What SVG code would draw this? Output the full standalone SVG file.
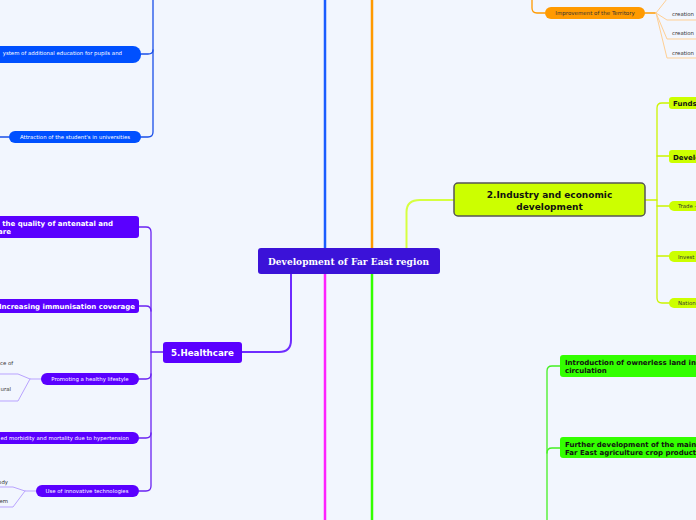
<svg xmlns="http://www.w3.org/2000/svg" width="696" height="520" viewBox="0 0 696 520">
<style>
.c{fill:none;stroke-linecap:round;stroke-linejoin:round}
.sb{font-family:"DejaVu Sans",Verdana,sans-serif;font-weight:bold}
.s{font-family:"DejaVu Sans",Verdana,sans-serif}
.w{fill:#ffffff}
.k{fill:#111111}
.g{fill:#333333;font-size:5.4px}
.blue{stroke:#1a4fe8;stroke-width:1.3}
.pur{stroke:#6a22f2;stroke-width:1.3}
.purl{stroke:#b9a3ff;stroke-width:1}
.org{stroke:#ff9a00;stroke-width:1.3}
.orgl{stroke:#ffcf94;stroke-width:1}
.yel{stroke:#ccf400;stroke-width:1.3}
.grn{stroke:#44f022;stroke-width:1.3}
</style>
<rect width="696" height="520" fill="#f2f6fe"/>
<g id="connectors">
<path class="c" d="M325,0 V248" stroke="#1a5cff" stroke-width="2.5"/>
<path class="c" d="M372,0 V248" stroke="#ff9900" stroke-width="2.5"/>
<path class="c" d="M325,274 V520" stroke="#ff22ff" stroke-width="2.5"/>
<path class="c" d="M372,274 V520" stroke="#33ff00" stroke-width="2.5"/>
<path class="c" d="M406.5,248 V212 Q406.5,200 420,200 H454" stroke="#d6ff40" stroke-width="2"/>
<path class="c" d="M291,274 V340 Q291,352 279,352 H242" stroke="#6f2cff" stroke-width="2"/>
<path class="c blue" d="M153,0 V132 Q153,137 148,137 H141"/>
<path class="c blue" d="M141,54 H148 Q153,54 153,50"/>
<path class="c blue" d="M0,137 H9"/>
<path class="c pur" d="M139,227 H146 Q151,227 151,232 V486 Q151,491 146,491 H139"/>
<path class="c pur" d="M139,306 H146 Q151,306 151,311"/>
<path class="c pur" d="M139,379 H146 Q151,379 151,374"/>
<path class="c pur" d="M139,438 H146 Q151,438 151,433"/>
<path class="c pur" d="M163,352 H151"/>
<path class="c purl" d="M41,379 H30 L18,374 H0 M30,379 L18,401 H0"/>
<path class="c purl" d="M36,491 H25 L13,487 H0 M25,491 L13,507 H0"/>
<path class="c org" d="M532,0 V8 Q532,13 537,13 H545"/>
<path class="c org" d="M645,13 H656"/>
<path class="c orgl" d="M656,13 L667,-1 M656,13 L667,20 H696 M656,13 L667,39 H696 M656,13 L667,58 H696"/>
<path class="c yel" d="M645,200 H657"/>
<path class="c yel" d="M669,103 H662 Q657,103 657,108 V298 Q657,303 662,303 H669"/>
<path class="c yel" d="M657,156 H669 M657,206 H669 M657,256 H669"/>
<path class="c grn" d="M560,366 H552 Q547,366 547,371 V520"/>
<path class="c grn" d="M547,453 Q547,448 552,448 H560"/>
</g>
<g id="central">
<rect x="258" y="248" width="182" height="26" rx="3" fill="#3b12d8"/>
<text x="348.5" y="265" text-anchor="middle" font-family="'DejaVu Serif','Liberation Serif',serif" font-weight="bold" font-size="9" textLength="161" class="w">Development of Far East region</text>
</g>
<g id="edu-additional">
<rect x="-10" y="46" width="151" height="17" rx="8" fill="#0050ff"/>
<text x="122" y="54.5" text-anchor="end" class="s w" font-size="5.4">ystem of additional education for pupils and</text>
</g>
<g id="edu-attraction">
<rect x="9" y="131" width="132" height="12" rx="6" fill="#0050ff"/>
<text x="75" y="139" text-anchor="middle" class="s w" font-size="5.4">Attraction of the student's in universities</text>
</g>
<g id="healthcare">
<rect x="163" y="342" width="79" height="21" rx="3" fill="#5a00ff"/>
<text x="202.5" y="356" text-anchor="middle" class="sb w" font-size="8.7">5.Healthcare</text>
</g>
<g id="hc-antenatal">
<rect x="-10" y="216" width="149" height="22" rx="3" fill="#5a00ff"/>
<text x="113" y="226" text-anchor="end" class="sb w" font-size="7">g the quality of antenatal and</text>
<text x="11" y="234" text-anchor="end" class="sb w" font-size="7">are</text>
</g>
<g id="hc-immunisation">
<rect x="-10" y="299" width="149" height="14" rx="3" fill="#5a00ff"/>
<text x="135" y="308.5" text-anchor="end" class="sb w" font-size="7">Increasing immunisation coverage</text>
</g>
<g id="hc-lifestyle">
<rect x="41" y="373" width="98" height="12" rx="6" fill="#5a00ff"/>
<text x="90" y="381" text-anchor="middle" class="s w" font-size="5.4">Promoting a healthy lifestyle</text>
<text x="0" y="365" class="s g">ce of</text>
<text x="11" y="391" text-anchor="end" class="s g">ural</text>
</g>
<g id="hc-hypertension">
<rect x="-10" y="432" width="149" height="12" rx="6" fill="#5a00ff"/>
<text x="129" y="440" text-anchor="end" class="s w" font-size="5.4">ed morbidity and mortality due to hypertension</text>
</g>
<g id="hc-innovative">
<rect x="36" y="485" width="103" height="12" rx="6" fill="#5a00ff"/>
<text x="87" y="493" text-anchor="middle" class="s w" font-size="5.4">Use of innovative technologies</text>
<text x="8" y="484" text-anchor="end" class="s g">ody</text>
<text x="8" y="503" text-anchor="end" class="s g">em</text>
</g>
<g id="territory">
<rect x="545" y="7" width="100" height="12" rx="6" fill="#ff9a00"/>
<text x="595" y="15" text-anchor="middle" class="s" fill="#333" font-size="5.5">Improvement of the Territory</text>
<text x="672" y="16" class="s g">creation</text>
<text x="672" y="35" class="s g">creation</text>
<text x="672" y="55" class="s g">creation</text>
</g>
<g id="industry">
<rect x="454" y="183" width="191" height="33" rx="4" fill="#ccff00" stroke="#555" stroke-width="1.5"/>
<text x="549.5" y="198" text-anchor="middle" class="sb k" font-size="9">2.Industry and economic</text>
<text x="549.5" y="210" text-anchor="middle" class="sb k" font-size="9">development</text>
</g>
<g id="ind-funds">
<rect x="669" y="97" width="40" height="12" rx="3" fill="#ccff00"/>
<text x="673" y="106" class="sb k" font-size="7">Funds</text>
</g>
<g id="ind-develo">
<rect x="669" y="150" width="40" height="13" rx="3" fill="#ccff00"/>
<text x="673" y="159.5" class="sb k" font-size="7">Develo</text>
</g>
<g id="ind-trade">
<rect x="669" y="201" width="40" height="10" rx="5" fill="#ccff00"/>
<text x="678" y="208" class="s" fill="#333" font-size="5.4">Trade -</text>
</g>
<g id="ind-invest">
<rect x="669" y="251" width="40" height="11" rx="5" fill="#ccff00"/>
<text x="678" y="258.5" class="s" fill="#333" font-size="5.4">Invest</text>
</g>
<g id="ind-nation">
<rect x="669" y="298" width="40" height="10" rx="5" fill="#ccff00"/>
<text x="678" y="305" class="s" fill="#333" font-size="5.4">Nation</text>
</g>
<g id="agr-land">
<rect x="560" y="355" width="150" height="22" rx="3" fill="#33ff00"/>
<text x="565" y="365" class="sb k" font-size="7">Introduction of ownerless land in</text>
<text x="565" y="373" class="sb k" font-size="7">circulation</text>
</g>
<g id="agr-crop">
<rect x="560" y="437" width="150" height="21" rx="3" fill="#33ff00"/>
<text x="565" y="447" class="sb k" font-size="7">Further development of the main</text>
<text x="565" y="455" class="sb k" font-size="7">Far East agriculture crop producti</text>
</g>
</svg>
